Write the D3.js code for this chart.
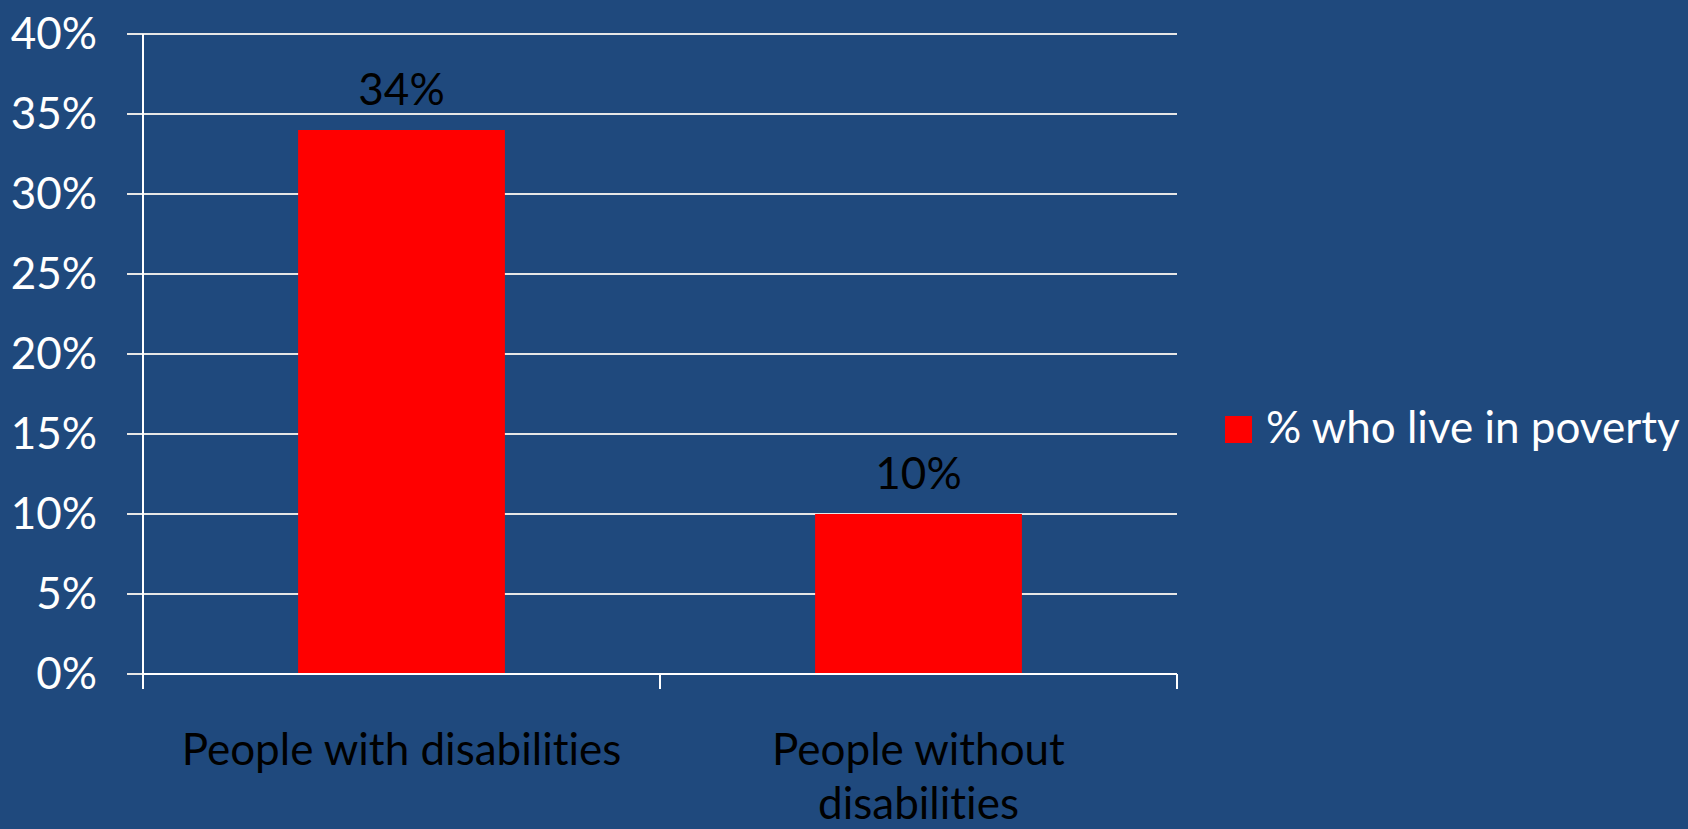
<!DOCTYPE html>
<html>
<head>
<meta charset="utf-8">
<script src="https://cdn.jsdelivr.net/npm/d3@7"></script>
<style>
  html, body { margin: 0; padding: 0; background: #1F497D; overflow: hidden; }
  svg { display: block; }
  text { font-family: Lato, "Open Sans", sans-serif; font-variant-ligatures: none; font-feature-settings: "liga" 0, "clig" 0; }
</style>
</head>
<body>
<script>
// chart data
const categories = ['People with disabilities', 'People without disabilities'];
const seriesName = '% who live in poverty';
const values = [34, 10];
const yTicks = [0, 5, 10, 15, 20, 25, 30, 35, 40];

// size values
const W = 1688, H = 829;
const margin = {top: 34, left: 143, right: 511, bottom: 155};
const w = W - margin.left - margin.right;
const h = H - margin.top - margin.bottom;
const fontSize = 44;

const svg = d3.select('body').append('svg')
    .attr('width', W).attr('height', H);

svg.append('rect').attr('width', W).attr('height', H).attr('fill', '#1F497D');

const g = svg.append('g').attr('transform', `translate(${margin.left},${margin.top})`);

// scales
const x = d3.scaleBand().domain(categories).range([0, w])
    .paddingInner(0.6).paddingOuter(0.3);
const y = d3.scaleLinear().domain([0, 40]).range([h, 0]);

// gridlines
g.append('g').selectAll('line').data(yTicks).join('line')
    .attr('x1', -16).attr('x2', w)
    .attr('y1', d => y(d)).attr('y2', d => y(d))
    .attr('stroke', '#e6e6e6').attr('stroke-width', 2);

// y axis labels
const yAxis = g.append('g')
    .call(d3.axisLeft(y).tickValues(yTicks).tickFormat(d => d + '%')
        .tickSize(16).tickSizeOuter(0).tickPadding(30));
yAxis.select('.domain').remove();
yAxis.selectAll('line').remove();
yAxis.selectAll('text')
    .attr('fill', '#fff').attr('font-size', fontSize)
    .attr('font-family', 'Lato, "Open Sans", sans-serif');

// bars
g.append('g').selectAll('rect').data(values).join('rect')
    .attr('x', (d, i) => x(categories[i]))
    .attr('y', d => y(d))
    .attr('width', x.bandwidth())
    .attr('height', d => h - y(d))
    .attr('fill', '#FF0000');

// data labels
g.append('g').selectAll('text').data(values).join('text')
    .attr('x', (d, i) => x(categories[i]) + x.bandwidth() / 2)
    .attr('y', d => y(d) - 25)
    .attr('text-anchor', 'middle')
    .attr('font-size', fontSize)
    .attr('fill', '#000')
    .text(d => d + '%');

// axis lines
g.append('line').attr('x1', 0).attr('x2', 0).attr('y1', 0).attr('y2', h)
    .attr('stroke', '#fff').attr('stroke-width', 2);
g.append('line').attr('x1', 0).attr('x2', w).attr('y1', h).attr('y2', h)
    .attr('stroke', '#fff').attr('stroke-width', 2);

// category boundary ticks
const bounds = d3.range(categories.length + 1).map(i => i * x.step());
g.append('g').selectAll('line').data(bounds).join('line')
    .attr('x1', d => d).attr('x2', d => d)
    .attr('y1', h).attr('y2', h + 15)
    .attr('stroke', '#fff').attr('stroke-width', 2);

// category labels, wrapped to fit
const catG = g.append('g');
categories.forEach(c => {
    const t = catG.append('text')
        .attr('text-anchor', 'middle')
        .attr('font-size', fontSize)
        .attr('fill', '#000');
    const cx = x(c) + x.bandwidth() / 2;
    const words = c.split(' ');
    let line = [], lines = [];
    const probe = t.append('tspan');
    words.forEach(wd => {
        line.push(wd);
        probe.text(line.join(' '));
        if (probe.node().getComputedTextLength() > x.step() * 0.9 && line.length > 1) {
            line.pop();
            lines.push(line.join(' '));
            line = [wd];
        }
    });
    lines.push(line.join(' '));
    probe.remove();
    lines.forEach((l, i) => {
        t.append('tspan').attr('x', cx).attr('y', h + 91 + i * 54).text(l);
    });
});

// legend
const leg = svg.append('g').attr('transform', 'translate(1225,416)');
leg.append('rect').attr('width', 27).attr('height', 27).attr('fill', '#FF0000');
leg.append('text').attr('x', 41).attr('y', 27)
    .attr('font-size', fontSize).attr('fill', '#fff')
    .text(seriesName);
</script>
</body>
</html>
